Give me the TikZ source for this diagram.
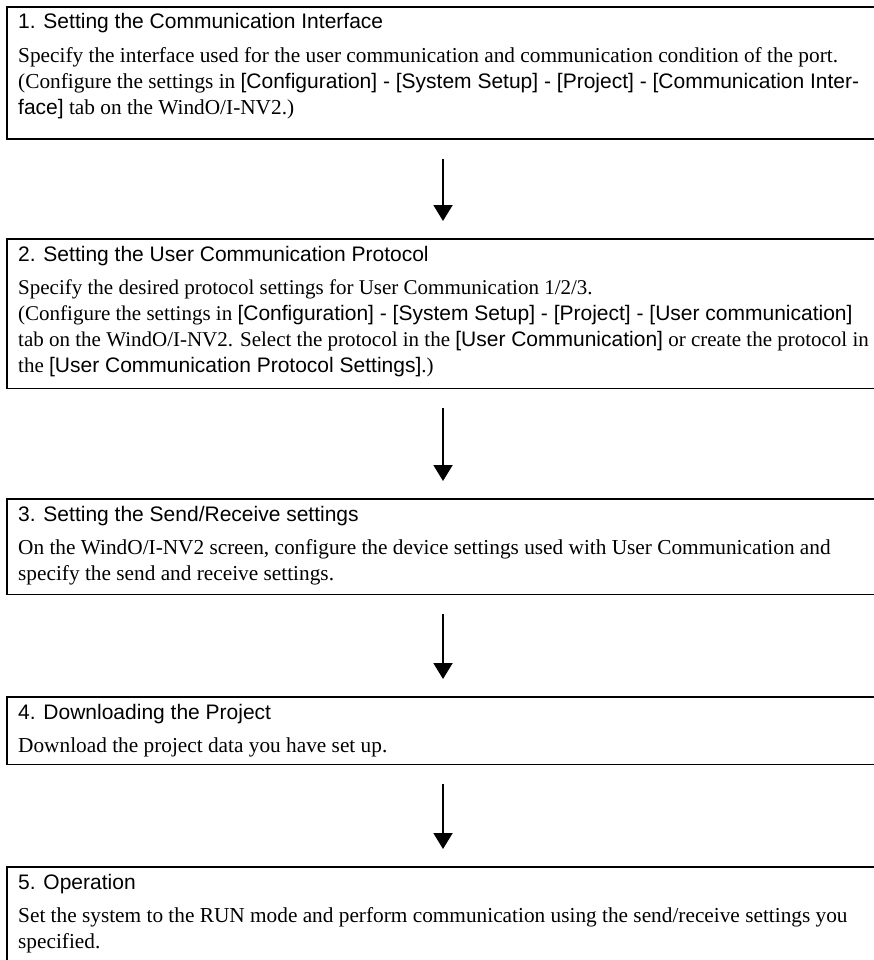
\documentclass[tikz,border=0pt]{standalone}
\usepackage{fontspec}
\setmainfont{Liberation Serif}
\setsansfont{Liberation Sans}
\usetikzlibrary{
  arrows.meta,
  positioning
}
\newcommand{\menu}[1]{{\fontsize{21}{26}\sffamily #1}}

\tikzset{
  stepframe/.style={minimum width=880pt, inner sep=0pt, anchor=north west},
  frameline/.style={line width=1.8pt},
  titletext/.style={font=\sffamily\fontsize{21}{26}\selectfont,
    anchor=base west, inner sep=0pt},
  bodytext/.style={font=\fontsize{21.3}{26}\selectfont,
    anchor=north west, inner sep=0pt, align=left},
  flowarrow/.style={line width=2pt, -{Triangle[length=16pt,width=19pt]},
    shorten <=20pt, shorten >=18pt}
}

\begin{document}
\begin{tikzpicture}[x=1pt,y=-1pt]
  \useasboundingbox (0,0) rectangle (873,960);

  % Boxes (open on the right side)
  \node[stepframe, minimum height=132pt] (box1) at (7,7) {};
  \node[stepframe, minimum height=149pt] (box2) at (7,239) {};
  \node[stepframe, minimum height=95pt]  (box3) at (7,499) {};
  \node[stepframe, minimum height=67pt]  (box4) at (7,697) {};
  \node[stepframe, minimum height=120pt] (box5) at (7,867) {};

  \foreach \b in {box1,box2,box3,box4,box5}{
    \draw[frameline] (\b.north east) -- (\b.north west)
      -- (\b.south west) -- (\b.south east);
  }

  % Titles
  \node[titletext] (title1) at ([xshift=11pt,yshift=-22pt]box1.north west)
    {1. Setting the Communication Interface};
  \node[titletext] (title2) at ([xshift=11pt,yshift=-22pt]box2.north west)
    {2. Setting the User Communication Protocol};
  \node[titletext] (title3) at ([xshift=11pt,yshift=-22pt]box3.north west)
    {3. Setting the Send/Receive settings};
  \node[titletext] (title4) at ([xshift=11pt,yshift=-22pt]box4.north west)
    {4. Downloading the Project};
  \node[titletext] (title5) at ([xshift=11pt,yshift=-22pt]box5.north west)
    {5. Operation};

  % Body texts
  \node[bodytext] (body1) at ([yshift=-14.8pt]title1.base west)
    {\strut Specify the interface used for the user communication and communication condition of the port.\\
     \strut (Configure the settings in \menu{[Configuration] - [System Setup] - [Project] - [Communication Inter-}\\
     \strut\menu{face]} tab on the WindO/I-NV2.)};

  \node[bodytext, font=\fontsize{21}{26}\selectfont] (body2) at ([yshift=-14.8pt]title2.base west)
    {\strut Specify the desired protocol settings for User Communication 1/2/3.\\
     \strut (Configure the settings in \menu{[Configuration] - [System Setup] - [Project] - [User communication]}\\
     \strut tab on the WindO/I-NV2. Select the protocol in the \menu{[User Communication]} or create the protocol in\\
     \strut the \menu{[User Communication Protocol Settings]}.)};

  \node[bodytext] (body3) at ([yshift=-14.8pt]title3.base west)
    {\strut On the WindO/I-NV2 screen, configure the device settings used with User Communication and\\
     \strut specify the send and receive settings.};

  \node[bodytext] (body4) at ([yshift=-14.8pt]title4.base west)
    {\strut Download the project data you have set up.};

  \node[bodytext] (body5) at ([yshift=-14.8pt]title5.base west)
    {\strut Set the system to the RUN mode and perform communication using the send/receive settings you\\
     \strut specified.};

  % Flow arrows
  \coordinate (axis) at (443,0);
  \draw[flowarrow] (box1.south -| axis) -- (box2.north -| axis);
  \draw[flowarrow] (box2.south -| axis) -- (box3.north -| axis);
  \draw[flowarrow] (box3.south -| axis) -- (box4.north -| axis);
  \draw[flowarrow] (box4.south -| axis) -- (box5.north -| axis);
\end{tikzpicture}
\end{document}
